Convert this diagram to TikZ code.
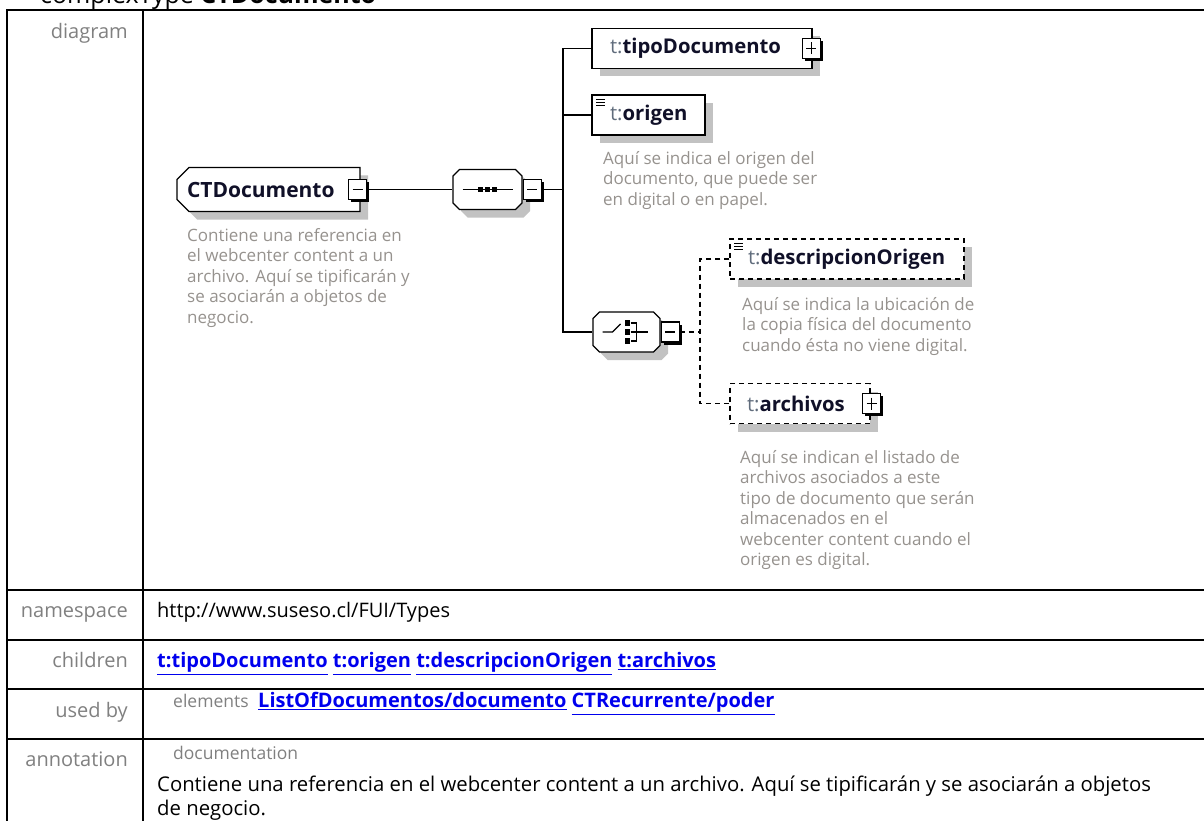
\documentclass[tikz,border=0pt]{standalone}
\usepackage{fontspec}
\setmainfont{Open Sans}
\usepackage{tikz}
\usetikzlibrary{shapes.misc, shadows, positioning, calc}
\definecolor{docGray}{RGB}{150,146,142}
\definecolor{labelGray}{RGB}{128,128,128}
\definecolor{prefixGray}{RGB}{96,108,124}
\definecolor{nameInk}{RGB}{16,16,40}
\definecolor{shadowGray}{RGB}{194,194,194}
\definecolor{linkBlue}{RGB}{0,0,238}
\newcommand{\nsprefix}{\textcolor{prefixGray}{\mdseries t:}}
\tikzstyle{rule} = [line width=2pt, black]
\tikzstyle{rowlabel} = [anchor=mid east, inner sep=0pt, text=labelGray, font=\fontsize{20}{24}\selectfont]
\tikzstyle{rowtext} = [anchor=mid west, inner sep=0pt, font=\fontsize{20}{24}\selectfont]
\tikzstyle{kindtext} = [rowtext, text=labelGray, font=\fontsize{17.5}{21}\selectfont]
\tikzstyle{linktext} = [rowtext, text=linkBlue, font=\fontsize{20}{24}\selectfont\bfseries]
\tikzstyle{elembox} = [rectangle, draw, fill=white, line width=1.3pt, minimum height=40pt,
  inner xsep=18pt, inner ysep=0pt, align=left, text=nameInk,
  font=\fontsize{20.3}{24}\selectfont\bfseries,
  drop shadow={shadow xshift=8pt, shadow yshift=-8pt, fill=shadowGray, opacity=1}]
\tikzstyle{optbox} = [elembox, dash pattern=on 5pt off 4pt]
\tikzstyle{ctbox} = [elembox, chamfered rectangle, chamfered rectangle corners={north west, south west},
  chamfered rectangle sep=6pt, inner xsep=4pt, minimum height=44pt, font=\fontsize{21}{25}\selectfont\bfseries]
\tikzstyle{compbox} = [chamfered rectangle, chamfered rectangle sep=6.5pt, draw, fill=white,
  line width=1.3pt, minimum height=40pt, inner sep=0pt,
  drop shadow={shadow xshift=8pt, shadow yshift=-8pt, fill=shadowGray, opacity=1}]
\tikzstyle{pmbox} = [rectangle, draw, fill=white, line width=1.1pt, minimum width=18pt,
  minimum height=20pt, inner sep=0pt,
  drop shadow={shadow xshift=2.5pt, shadow yshift=-2.5pt, fill=black, opacity=1}]
\tikzstyle{minus} = [path picture={
  \draw[line width=1.1pt] ([xshift=4pt]path picture bounding box.west) -- ([xshift=-4pt]path picture bounding box.east);}]
\tikzstyle{plus} = [path picture={
  \draw[line width=1.1pt] ([xshift=4pt]path picture bounding box.west) -- ([xshift=-4pt]path picture bounding box.east);
  \draw[line width=1.1pt] ([yshift=-4pt]path picture bounding box.north) -- ([yshift=4pt]path picture bounding box.south);}]
\tikzstyle{simpleicon} = [path picture={
  \foreach \dy in {4,7,10}
    \draw[line width=0.9pt, solid] ([xshift=4pt,yshift=-\dy pt]path picture bounding box.north west) -- ++(9pt,0pt);}]
\tikzstyle{seqicon} = [path picture={
  \path (path picture bounding box.center) coordinate (pc);
  \draw[line width=1.3pt] ([xshift=-25pt]pc) -- ([xshift=25pt]pc);
  \foreach \dx in {-7,0,7}
    \fill[black] ([xshift=\dx pt]pc) +(-2.8pt,-2.8pt) rectangle +(2.8pt,2.8pt);}]
\tikzstyle{choiceicon} = [path picture={
  \path (path picture bounding box.center) coordinate (pc);
  \draw[line width=1.3pt] ([xshift=-24pt]pc) -- ([xshift=-14pt]pc) -- ([xshift=-6pt,yshift=8pt]pc);
  \foreach \dy in {9,0,-9}
    \fill[black] ([xshift=1pt,yshift=\dy pt]pc) +(-2.6pt,-2.6pt) rectangle +(2.6pt,2.6pt);
  \draw[line width=1.3pt] ([xshift=4pt,yshift=9pt]pc) -- ([xshift=10pt,yshift=9pt]pc)
    -- ([xshift=10pt,yshift=-9pt]pc) -- ([xshift=4pt,yshift=-9pt]pc);
  \draw[line width=1.3pt] ([xshift=4pt]pc) -- ([xshift=21pt]pc);}]
\tikzstyle{doc} = [anchor=north west, inner sep=0pt, align=left, text=docGray,
  font=\fontsize{17}{20.5}\selectfont]
\tikzstyle{link} = [line width=1.3pt, black]
\tikzstyle{optlink} = [link, dash pattern=on 5pt off 4pt]

\begin{document}
\begin{tikzpicture}[x=1pt, y=-1pt]
  \useasboundingbox (0,0) rectangle (1204,821);

  % title, cut by the top edge
  \node[anchor=base west, inner sep=0pt, font=\fontsize{25}{30}\selectfont] (title) at (40,4) {complexType \textbf{CTDocumento}};

  % table rules
  \draw[rule] (7,821) -- (7,10) -- (1204,10);
  \draw[rule] (143,10) -- (143,821);
  \foreach \y in {590,640,689,739}
    \draw[rule] (7,\y) -- (1204,\y);

  % row labels
  \node[rowlabel] (Ldiagram) at (128,36) {diagram};
  \node[rowlabel] (Lnamespace) at (128,615) {namespace};
  \node[rowlabel] (Lchildren) at (128,665) {children};
  \node[rowlabel] (Lusedby) at (128,715) {used by};
  \node[rowlabel] (Lannotation) at (128,764) {annotation};

  % row contents
  \node[rowtext] (namespace) at (157,615) {http://www.suseso.cl/FUI/Types};
  \node[linktext] (children) at (157,665) {\underline{t:tipoDocumento} \underline{t:origen} \underline{t:descripcionOrigen} \underline{t:archivos}};
  \node[kindtext] (usedkind) at (173,705) {elements};
  \node[linktext] (usedby) at (258,705) {\underline{ListOfDocumentos/documento} \underline{CTRecurrente/poder}};
  \node[kindtext] (dockind) at (173,757) {documentation};
  \node[anchor=north west, inner sep=0pt, align=left, font=\fontsize{20.3}{24}\selectfont] (annotation) at (157,776)
    {Contiene una referencia en el webcenter content a un archivo. Aquí se tipificarán y se asociarán a objetos\\de negocio.};

  % complex type
  \node[ctbox, text width=163pt] (ct) at (268.5,189.5) {CTDocumento};
  \node[pmbox, minus] (ctpm) at ([xshift=-3pt]ct.east) {};
  \node[doc] (ctdoc) at (187,228) {Contiene una referencia en\\el webcenter content a un\\archivo. Aquí se tipificarán y\\se asociarán a objetos de\\negocio.};

  % sequence
  \node[compbox, seqicon, text width=69pt] (seq) at (487.5,189.5) {};
  \node[pmbox, minus, right=0pt of seq] (seqpm) {};

  \node[elembox, text width=184pt] (tipo) at (702,48.5) {\nsprefix tipoDocumento};
  \node[pmbox, plus] (tipopm) at ([xshift=-1.5pt]tipo.east) {};
  \node[elembox, simpleicon, text width=77pt] (origen) at (648.5,115) {\nsprefix origen};
  \node[doc] (origendoc) at (603,151) {Aquí se indica el origen del\\documento, que puede ser\\en digital o en papel.};

  % choice
  \node[compbox, choiceicon, text width=67pt] (choice) at (626.5,332) {};
  \node[pmbox, minus, right=0pt of choice] (choicepm) {};

  \node[optbox, simpleicon, text width=198pt] (desc) at (847,259) {\nsprefix descripcionOrigen};
  \node[doc] (descdoc) at (742,297) {Aquí se indica la ubicación de\\la copia física del documento\\cuando ésta no viene digital.};
  \node[optbox, inner xsep=17pt, text width=106pt] (arch) at (800,403.5) {\nsprefix archivos};
  \node[pmbox, plus] (archpm) at ([xshift=1pt]arch.east) {};
  \node[doc] (archdoc) at (740,450) {Aquí se indican el listado de\\archivos asociados a este\\tipo de documento que serán\\almacenados en el\\webcenter content cuando el\\origen es digital.};

  % connectors
  \coordinate (bus) at (563,189.5);
  \coordinate (optbus) at (700,332);
  \draw[link] (ctpm.east) -- (seq.west);
  \draw[link] (seqpm.east) -- (bus);
  \draw[link] (tipo.west) -| (bus) |- (choice.west);
  \draw[link] (origen.west) -- (origen.west -| bus);
  \draw[optlink] (choicepm.east) -- (optbus);
  \draw[optlink] (desc.west) -| (optbus) |- (arch.west);
\end{tikzpicture}
\end{document}
